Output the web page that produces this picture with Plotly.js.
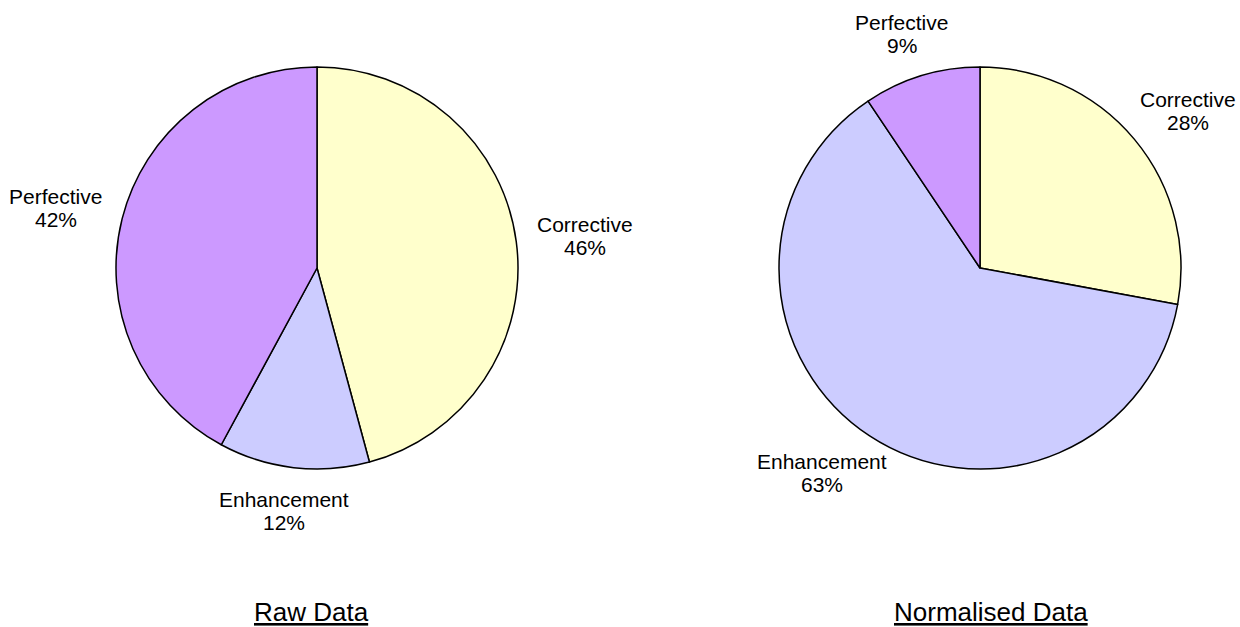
<!DOCTYPE html>
<html>
<head>
<meta charset="utf-8">
<script src="https://cdn.plot.ly/plotly-3.0.1.min.js"></script>
<style>html,body{margin:0;padding:0;background:#fff;}#chart{width:1240px;height:627px;}</style>
</head>
<body>
<div id="chart"></div>
<script>
const categories = ["Corrective", "Enhancement", "Perfective"];
const rawValues = [45.8, 12.1, 42.1];
const normalisedValues = [27.9, 62.7, 9.4];
const chartTitles = ["Raw Data", "Normalised Data"];
const colors = ["#FFFFCC", "#CCCCFF", "#CC99FF"];

const W = 1240, H = 627, R = 201, cy = 268;
const FONT = "Liberation Sans, Arial, sans-serif";
const LABEL_SIZE = 21, TITLE_SIZE = 26, GAP = 22, LINE = 23;

function dom(cx) {
  return {
    x: [(cx - R) / W, (cx + R) / W],
    y: [(H - cy - R) / H, (H - cy + R) / H]
  };
}
function pie(values, cx) {
  return {
    type: "pie",
    labels: categories,
    values: values,
    sort: false,
    direction: "clockwise",
    rotation: 0,
    domain: dom(cx),
    marker: {colors: colors, line: {color: "#000", width: 1.5}},
    textinfo: "none",
    hoverinfo: "label+percent",
    showlegend: false
  };
}

const ctx = document.createElement("canvas").getContext("2d");
ctx.font = LABEL_SIZE + "px 'Liberation Sans'";

function labelAnnotations(values, cx) {
  const total = values.reduce((a, b) => a + b, 0);
  let cum = 0;
  const out = [];
  values.forEach((v, i) => {
    const mid = (cum + v / 2) / total * 2 * Math.PI;
    cum += v;
    const pct = Math.round(v / total * 100) + "%";
    const ux = Math.sin(mid), uy = -Math.cos(mid);
    const hw = Math.max(ctx.measureText(categories[i]).width, ctx.measureText(pct).width) / 2;
    const hh = LINE * 0.95;
    const px = cx + ux * (R + GAP) + ux * hw;
    const py = cy + uy * (R + GAP) + uy * hh;
    [[categories[i], py - LINE / 2], [pct, py + LINE / 2]].forEach(([t, yy]) => {
      out.push({
        text: t, x: px / W, y: 1 - yy / H, xref: "paper", yref: "paper",
        xanchor: "center", yanchor: "middle", showarrow: false,
        font: {family: FONT, size: LABEL_SIZE, color: "#000"}
      });
    });
  });
  return out;
}

const data = [pie(rawValues, 317), pie(normalisedValues, 980)];
const layout = {
  width: W, height: H,
  margin: {l: 0, r: 0, t: 0, b: 0},
  paper_bgcolor: "#fff",
  font: {family: FONT, size: LABEL_SIZE, color: "#000"},
  annotations: [
    ...labelAnnotations(rawValues, 317),
    ...labelAnnotations(normalisedValues, 980),
    {text: "<u>" + chartTitles[0] + "</u>", x: 311 / W, y: 1 - 612 / H, xref: "paper", yref: "paper", xanchor: "center", yanchor: "middle", showarrow: false, font: {family: FONT, size: TITLE_SIZE}},
    {text: "<u>" + chartTitles[1] + "</u>", x: 991 / W, y: 1 - 612 / H, xref: "paper", yref: "paper", xanchor: "center", yanchor: "middle", showarrow: false, font: {family: FONT, size: TITLE_SIZE}}
  ]
};
Plotly.newPlot("chart", data, layout, {displayModeBar: false});
</script>
</body>
</html>
